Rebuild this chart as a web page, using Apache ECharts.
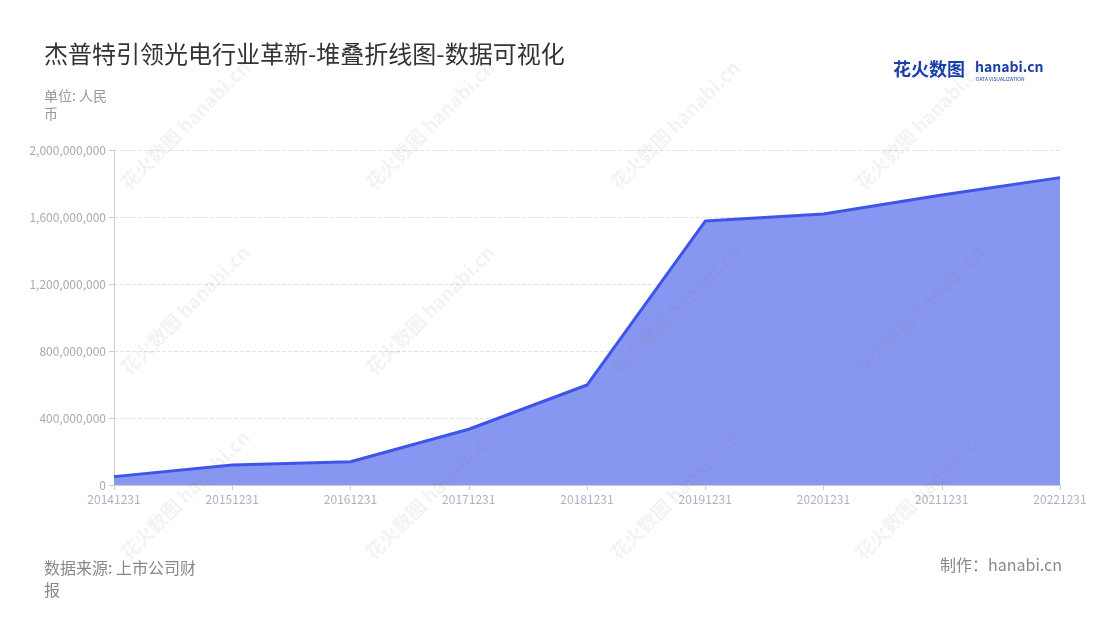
<!DOCTYPE html>
<html>
<head>
<meta charset="utf-8">
<script src="https://cdn.jsdelivr.net/npm/echarts@6/dist/echarts.min.js"></script>
<style>
html, body { margin: 0; padding: 0; background: #fff; }
#main { width: 1100px; height: 620px; }
</style>
</head>
<body>
<div id="main"></div>
<script>
var categories = ['20141231', '20151231', '20161231', '20171231', '20181231', '20191231', '20201231', '20211231', '20221231'];
var revenue = [50000000, 119000000, 139000000, 333000000, 597000000, 1576000000, 1618000000, 1731000000, 1835000000];
var yTicks = [0, 400000000, 800000000, 1200000000, 1600000000, 2000000000];

var dom = document.getElementById('main');
var myChart = echarts.init(dom, null, { renderer: 'canvas' });
var font = '"Noto Sans CJK SC", "Noto Sans", sans-serif';

// faint watermarks
var marks = [];
var wmX = [185, 430, 675, 920];
var wmY = [125, 310, 495];
wmX.forEach(function (x) {
    wmY.forEach(function (y) {
        marks.push({
            type: 'text', x: x, y: y, rotation: Math.PI / 4, z: 100, silent: true,
            style: { text: '花火数图 hanabi.cn', fill: 'rgba(140,140,140,0.10)', font: 'bold 19px ' + font, align: 'center', verticalAlign: 'middle' }
        });
    });
});

var option = {
    backgroundColor: '#fff',
    title: {
        text: '杰普特引领光电行业革新-堆叠折线图-数据可视化',
        left: 39, top: 37,
        textStyle: { fontFamily: font, fontSize: 24, fontWeight: 'normal', color: '#333' }
    },
    grid: { left: 114, right: 40, top: 150, bottom: 135 },
    xAxis: {
        type: 'category',
        boundaryGap: false,
        data: categories,
        axisLine: { lineStyle: { color: '#ccc' } },
        axisTick: { show: true, lineStyle: { color: '#ccc' } },
        axisLabel: { color: '#aeb1c4', fontSize: 12, fontFamily: font, interval: 0 }
    },
    yAxis: {
        type: 'value',
        min: 0, max: 2000000000, interval: 400000000,
        axisLine: { show: true, lineStyle: { color: '#ccc' } },
        axisTick: { show: true, lineStyle: { color: '#ccc' } },
        splitLine: { lineStyle: { color: '#e3e3e3', type: 'dashed' } },
        axisLabel: {
            color: '#aaa', fontSize: 12, fontFamily: font,
            formatter: function (v) { return yTicks.indexOf(v) >= 0 ? v.toLocaleString('en-US') : ''; }
        }
    },
    series: [{
        name: '营业收入',
        type: 'line',
        stack: 'total',
        data: revenue,
        symbol: 'none',
        lineStyle: { color: '#3d55e8', width: 3 },
        itemStyle: { color: '#3d55e8' },
        areaStyle: { color: '#8796f0', opacity: 1 }
    }],
    graphic: marks.concat([
        { type: 'text', left: 44, top: 87, style: { text: '单位: 人民\n币', fill: '#999', font: '14px ' + font, lineHeight: 18 } },
        { type: 'text', left: 44, top: 557, style: { text: '数据来源: 上市公司财\n报', fill: '#888', font: '16px ' + font, lineHeight: 22 } },
        { type: 'text', right: 38, top: 557, style: { text: '制作：hanabi.cn', fill: '#888', font: '16px ' + font } },
        { type: 'text', left: 893, top: 60, style: { text: '花火数图', fill: '#1a3fa8', font: 'bold 18px ' + font } },
        { type: 'text', left: 975, top: 60, style: { text: 'hanabi.cn', fill: '#1a3fa8', font: 'bold 14px ' + font } },
        { type: 'text', left: 976, top: 77, style: { text: 'DATA VISUALIZATION', fill: '#1a3fa8', font: '5px ' + font } }
    ])
};

myChart.setOption(option);
window.addEventListener('resize', myChart.resize);
</script>
</body>
</html>
